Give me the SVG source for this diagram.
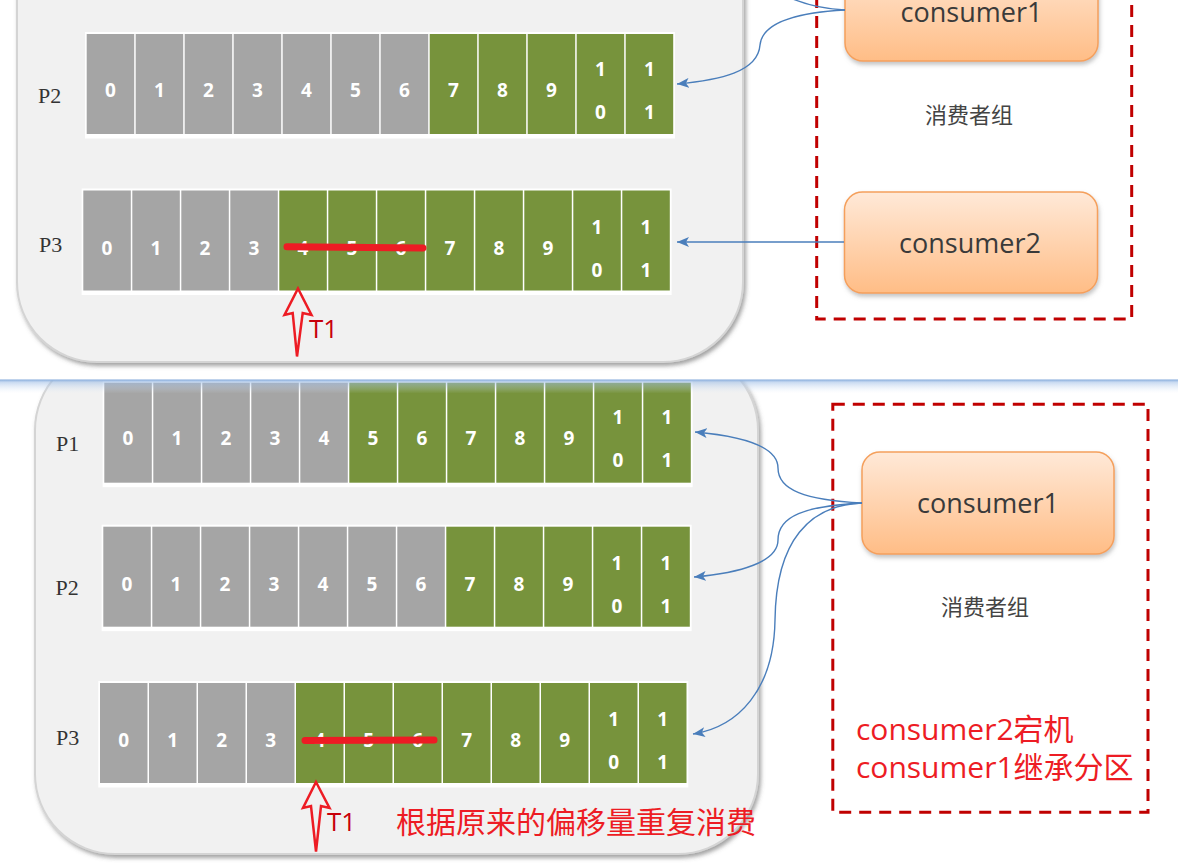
<svg xmlns="http://www.w3.org/2000/svg" width="1178" height="867" viewBox="0 0 1178 867">
<defs>
<style>
.panel{fill:#f1f1f1;stroke:#d4d4d4;stroke-width:2}
.strip{fill:#ffffff}
.g{fill:#a5a5a5}
.v{fill:#77933c}
.d{font-family:"Open Sans","Liberation Sans",sans-serif;font-weight:bold;font-size:19px;fill:#ffffff;text-anchor:middle}
.pl{font-family:"Liberation Serif",serif;font-size:22px;fill:#333333}
.box{fill:url(#og);stroke:#f5a05c;stroke-width:1.5}
.bt{font-family:"Open Sans","Liberation Sans",sans-serif;font-size:27px;fill:#3a3a3a;text-anchor:middle}
.grp{font-family:"Noto Sans CJK SC",sans-serif;font-size:22px;fill:#444444;text-anchor:middle}
.dash{fill:none;stroke:#c00000;stroke-width:3;stroke-dasharray:12 8}
.con{fill:none;stroke:#4a7ebb;stroke-width:1.4}
.strike{stroke:#ed1c24;stroke-width:7;stroke-linecap:round;fill:none}
.t1arrow{fill:none;stroke:#ed1c24;stroke-width:2.5;stroke-linejoin:miter}
.t1{font-family:"Open Sans","Liberation Sans",sans-serif;font-size:26px;fill:#c8000a}
.note{font-family:"Open Sans","Noto Sans CJK SC",sans-serif;font-size:30px;fill:#ed1c24}
</style>
<linearGradient id="og" x1="0" y1="0" x2="0" y2="1">
<stop offset="0" stop-color="#ffe9d8"/>
<stop offset="1" stop-color="#ffbd86"/>
</linearGradient>
<linearGradient id="blue" x1="0" y1="0" x2="0" y2="1">
<stop offset="0" stop-color="#7aa3d8" stop-opacity="0.95"/>
<stop offset="0.2" stop-color="#9dbde6" stop-opacity="0.55"/>
<stop offset="1" stop-color="#dfeaf8" stop-opacity="0"/>
</linearGradient>
<filter id="sh" x="-10%" y="-10%" width="120%" height="120%">
<feDropShadow dx="2" dy="3" stdDeviation="2" flood-color="#555555" flood-opacity="0.55"/>
</filter>
<filter id="bsh" x="-10%" y="-10%" width="120%" height="130%">
<feDropShadow dx="1" dy="3" stdDeviation="2" flood-color="#888888" flood-opacity="0.5"/>
</filter>
<clipPath id="lower">
<rect x="0" y="380.5" width="1178" height="490"/>
</clipPath>
<marker id="ah" markerWidth="12" markerHeight="10" refX="12" refY="5" orient="auto" markerUnits="userSpaceOnUse">
<path d="M0,0 L12,5 L0,10 L3,5 Z" fill="#4a7ebb"/>
</marker>
</defs>
<rect x="0" y="0" width="1178" height="867" fill="#ffffff"/>

<g id="top-panel">
<rect class="panel" x="17" y="-120" width="726" height="482" rx="80" ry="80" filter="url(#sh)"/>
</g>

<g id="top-P2">
<text class="pl" x="38" y="103">P2</text>
<g transform="translate(86.7,34)">
<rect class="strip" x="-1.7" y="-2" width="590" height="106.5"/>
<rect class="g" x="0" y="0" width="47.5" height="100"/>
<rect class="g" x="49" y="0" width="47.5" height="100"/>
<rect class="g" x="98" y="0" width="47.5" height="100"/>
<rect class="g" x="147" y="0" width="47.5" height="100"/>
<rect class="g" x="196" y="0" width="47.5" height="100"/>
<rect class="g" x="245" y="0" width="47.5" height="100"/>
<rect class="g" x="294" y="0" width="47.5" height="100"/>
<rect class="v" x="343" y="0" width="47.5" height="100"/>
<rect class="v" x="392" y="0" width="47.5" height="100"/>
<rect class="v" x="441" y="0" width="47.5" height="100"/>
<rect class="v" x="490" y="0" width="47.5" height="100"/>
<rect class="v" x="539" y="0" width="47.5" height="100"/>
<text class="d" x="23.75" y="63">0</text>
<text class="d" x="72.75" y="63">1</text>
<text class="d" x="121.75" y="63">2</text>
<text class="d" x="170.75" y="63">3</text>
<text class="d" x="219.75" y="63">4</text>
<text class="d" x="268.75" y="63">5</text>
<text class="d" x="317.75" y="63">6</text>
<text class="d" x="366.75" y="63">7</text>
<text class="d" x="415.75" y="63">8</text>
<text class="d" x="464.75" y="63">9</text>
<text class="d" x="513.75" y="42">1</text>
<text class="d" x="513.75" y="85">0</text>
<text class="d" x="562.75" y="42">1</text>
<text class="d" x="562.75" y="85">1</text>
</g>
</g>

<g id="top-P3">
<text class="pl" x="39" y="252">P3</text>
<g transform="translate(83.3,190.5)">
<rect class="strip" x="-1.7" y="-2" width="590" height="106.5"/>
<rect class="g" x="0" y="0" width="47.5" height="100"/>
<rect class="g" x="49" y="0" width="47.5" height="100"/>
<rect class="g" x="98" y="0" width="47.5" height="100"/>
<rect class="g" x="147" y="0" width="47.5" height="100"/>
<rect class="v" x="196" y="0" width="47.5" height="100"/>
<rect class="v" x="245" y="0" width="47.5" height="100"/>
<rect class="v" x="294" y="0" width="47.5" height="100"/>
<rect class="v" x="343" y="0" width="47.5" height="100"/>
<rect class="v" x="392" y="0" width="47.5" height="100"/>
<rect class="v" x="441" y="0" width="47.5" height="100"/>
<rect class="v" x="490" y="0" width="47.5" height="100"/>
<rect class="v" x="539" y="0" width="47.5" height="100"/>
<text class="d" x="23.75" y="64">0</text>
<text class="d" x="72.75" y="64">1</text>
<text class="d" x="121.75" y="64">2</text>
<text class="d" x="170.75" y="64">3</text>
<text class="d" x="219.75" y="64">4</text>
<text class="d" x="268.75" y="64">5</text>
<text class="d" x="317.75" y="64">6</text>
<text class="d" x="366.75" y="64">7</text>
<text class="d" x="415.75" y="64">8</text>
<text class="d" x="464.75" y="64">9</text>
<text class="d" x="513.75" y="43">1</text>
<text class="d" x="513.75" y="86">0</text>
<text class="d" x="562.75" y="43">1</text>
<text class="d" x="562.75" y="86">1</text>
</g>
<path class="strike" d="M287,246.7 L423,248"/>
<path class="t1arrow" d="M298,288.5 L311.5,315 L302.7,313 L297,356.5 L292.7,313 L284.5,315 Z"/>
<text class="t1" x="309" y="338">T1</text>
</g>

<g id="top-group">
<rect class="dash" x="816.7" y="-20" width="315" height="339"/>
<text class="grp" x="969" y="123">消费者组</text>
</g>
<g id="top-consumer1">
<rect class="box" x="845" y="-42" width="253" height="103" rx="18" ry="18" filter="url(#bsh)"/>
<text class="bt" x="971.5" y="22">consumer1</text>
</g>
<g id="top-consumer2">
<rect class="box" x="844.5" y="192" width="253" height="101" rx="18" ry="18" filter="url(#bsh)"/>
<text class="bt" x="970" y="253">consumer2</text>
</g>

<g id="bottom-panel" clip-path="url(#lower)">
<rect class="panel" x="35" y="350" width="723" height="504" rx="80" ry="80" filter="url(#sh)"/>
</g>

<g id="bottom-P1" clip-path="url(#lower)">
<text class="pl" x="56" y="451">P1</text>
<g transform="translate(104.3,382.7)">
<rect class="strip" x="-1.7" y="-2" width="590" height="106.5"/>
<rect class="g" x="0" y="0" width="47.5" height="100"/>
<rect class="g" x="49" y="0" width="47.5" height="100"/>
<rect class="g" x="98" y="0" width="47.5" height="100"/>
<rect class="g" x="147" y="0" width="47.5" height="100"/>
<rect class="g" x="196" y="0" width="47.5" height="100"/>
<rect class="v" x="245" y="0" width="47.5" height="100"/>
<rect class="v" x="294" y="0" width="47.5" height="100"/>
<rect class="v" x="343" y="0" width="47.5" height="100"/>
<rect class="v" x="392" y="0" width="47.5" height="100"/>
<rect class="v" x="441" y="0" width="47.5" height="100"/>
<rect class="v" x="490" y="0" width="47.5" height="100"/>
<rect class="v" x="539" y="0" width="47.5" height="100"/>
<text class="d" x="23.75" y="62">0</text>
<text class="d" x="72.75" y="62">1</text>
<text class="d" x="121.75" y="62">2</text>
<text class="d" x="170.75" y="62">3</text>
<text class="d" x="219.75" y="62">4</text>
<text class="d" x="268.75" y="62">5</text>
<text class="d" x="317.75" y="62">6</text>
<text class="d" x="366.75" y="62">7</text>
<text class="d" x="415.75" y="62">8</text>
<text class="d" x="464.75" y="62">9</text>
<text class="d" x="513.75" y="41">1</text>
<text class="d" x="513.75" y="84">0</text>
<text class="d" x="562.75" y="41">1</text>
<text class="d" x="562.75" y="84">1</text>
</g>
</g>

<g id="bottom-P2">
<text class="pl" x="55.5" y="595">P2</text>
<g transform="translate(103.3,526.7)">
<rect class="strip" x="-1.7" y="-2" width="590" height="106.5"/>
<rect class="g" x="0" y="0" width="47.5" height="100"/>
<rect class="g" x="49" y="0" width="47.5" height="100"/>
<rect class="g" x="98" y="0" width="47.5" height="100"/>
<rect class="g" x="147" y="0" width="47.5" height="100"/>
<rect class="g" x="196" y="0" width="47.5" height="100"/>
<rect class="g" x="245" y="0" width="47.5" height="100"/>
<rect class="g" x="294" y="0" width="47.5" height="100"/>
<rect class="v" x="343" y="0" width="47.5" height="100"/>
<rect class="v" x="392" y="0" width="47.5" height="100"/>
<rect class="v" x="441" y="0" width="47.5" height="100"/>
<rect class="v" x="490" y="0" width="47.5" height="100"/>
<rect class="v" x="539" y="0" width="47.5" height="100"/>
<text class="d" x="23.75" y="64">0</text>
<text class="d" x="72.75" y="64">1</text>
<text class="d" x="121.75" y="64">2</text>
<text class="d" x="170.75" y="64">3</text>
<text class="d" x="219.75" y="64">4</text>
<text class="d" x="268.75" y="64">5</text>
<text class="d" x="317.75" y="64">6</text>
<text class="d" x="366.75" y="64">7</text>
<text class="d" x="415.75" y="64">8</text>
<text class="d" x="464.75" y="64">9</text>
<text class="d" x="513.75" y="43">1</text>
<text class="d" x="513.75" y="86">0</text>
<text class="d" x="562.75" y="43">1</text>
<text class="d" x="562.75" y="86">1</text>
</g>
</g>

<g id="bottom-P3">
<text class="pl" x="56" y="745">P3</text>
<g transform="translate(100,683)">
<rect class="strip" x="-1.7" y="-2" width="590" height="106.5"/>
<rect class="g" x="0" y="0" width="47.5" height="100"/>
<rect class="g" x="49" y="0" width="47.5" height="100"/>
<rect class="g" x="98" y="0" width="47.5" height="100"/>
<rect class="g" x="147" y="0" width="47.5" height="100"/>
<rect class="v" x="196" y="0" width="47.5" height="100"/>
<rect class="v" x="245" y="0" width="47.5" height="100"/>
<rect class="v" x="294" y="0" width="47.5" height="100"/>
<rect class="v" x="343" y="0" width="47.5" height="100"/>
<rect class="v" x="392" y="0" width="47.5" height="100"/>
<rect class="v" x="441" y="0" width="47.5" height="100"/>
<rect class="v" x="490" y="0" width="47.5" height="100"/>
<rect class="v" x="539" y="0" width="47.5" height="100"/>
<text class="d" x="23.75" y="64">0</text>
<text class="d" x="72.75" y="64">1</text>
<text class="d" x="121.75" y="64">2</text>
<text class="d" x="170.75" y="64">3</text>
<text class="d" x="219.75" y="64">4</text>
<text class="d" x="268.75" y="64">5</text>
<text class="d" x="317.75" y="64">6</text>
<text class="d" x="366.75" y="64">7</text>
<text class="d" x="415.75" y="64">8</text>
<text class="d" x="464.75" y="64">9</text>
<text class="d" x="513.75" y="43">1</text>
<text class="d" x="513.75" y="86">0</text>
<text class="d" x="562.75" y="43">1</text>
<text class="d" x="562.75" y="86">1</text>
</g>
<path class="strike" d="M305,740.5 L434,740"/>
<path class="t1arrow" d="M316,782 L329.5,808 L321,806 L316,851.5 L311,806 L303,808 Z"/>
<text class="t1" x="327" y="831">T1</text>
<text class="note" x="396" y="833">根据原来的偏移量重复消费</text>
</g>

<g id="bottom-group">
<rect class="dash" x="832.8" y="404.3" width="315.2" height="408"/>
<text class="grp" x="985" y="615">消费者组</text>
<text class="note" x="856" y="740">consumer2宕机</text>
<text class="note" x="856" y="778">consumer1继承分区</text>
</g>
<g id="bottom-consumer1">
<rect class="box" x="862" y="452" width="252" height="102" rx="18" ry="18" filter="url(#bsh)"/>
<text class="bt" x="988" y="513">consumer1</text>
</g>

<g id="connectors">
<path class="con" d="M845,10 C825,9 805,5 786,-4"/>
<path class="con" marker-end="url(#ah)" d="M845,10 C790,13 762,25 760,45 C758,72 720,80 677,84"/>
<path class="con" marker-end="url(#ah)" d="M844,242 L677,242"/>
<path class="con" marker-end="url(#ah)" d="M862,503 C805,500 778,490 778,468 C778,446 740,436 695,432"/>
<path class="con" marker-end="url(#ah)" d="M862,503 C805,506 778,516 778,540 C778,562 740,573 694,577"/>
<path class="con" marker-end="url(#ah)" d="M862,503 C810,505 776,540 775,620 C774,690 738,727 693,734"/>
</g>

<g id="divider-line">
<rect x="0" y="379.5" width="1178" height="14" fill="url(#blue)"/>
</g>
</svg>
